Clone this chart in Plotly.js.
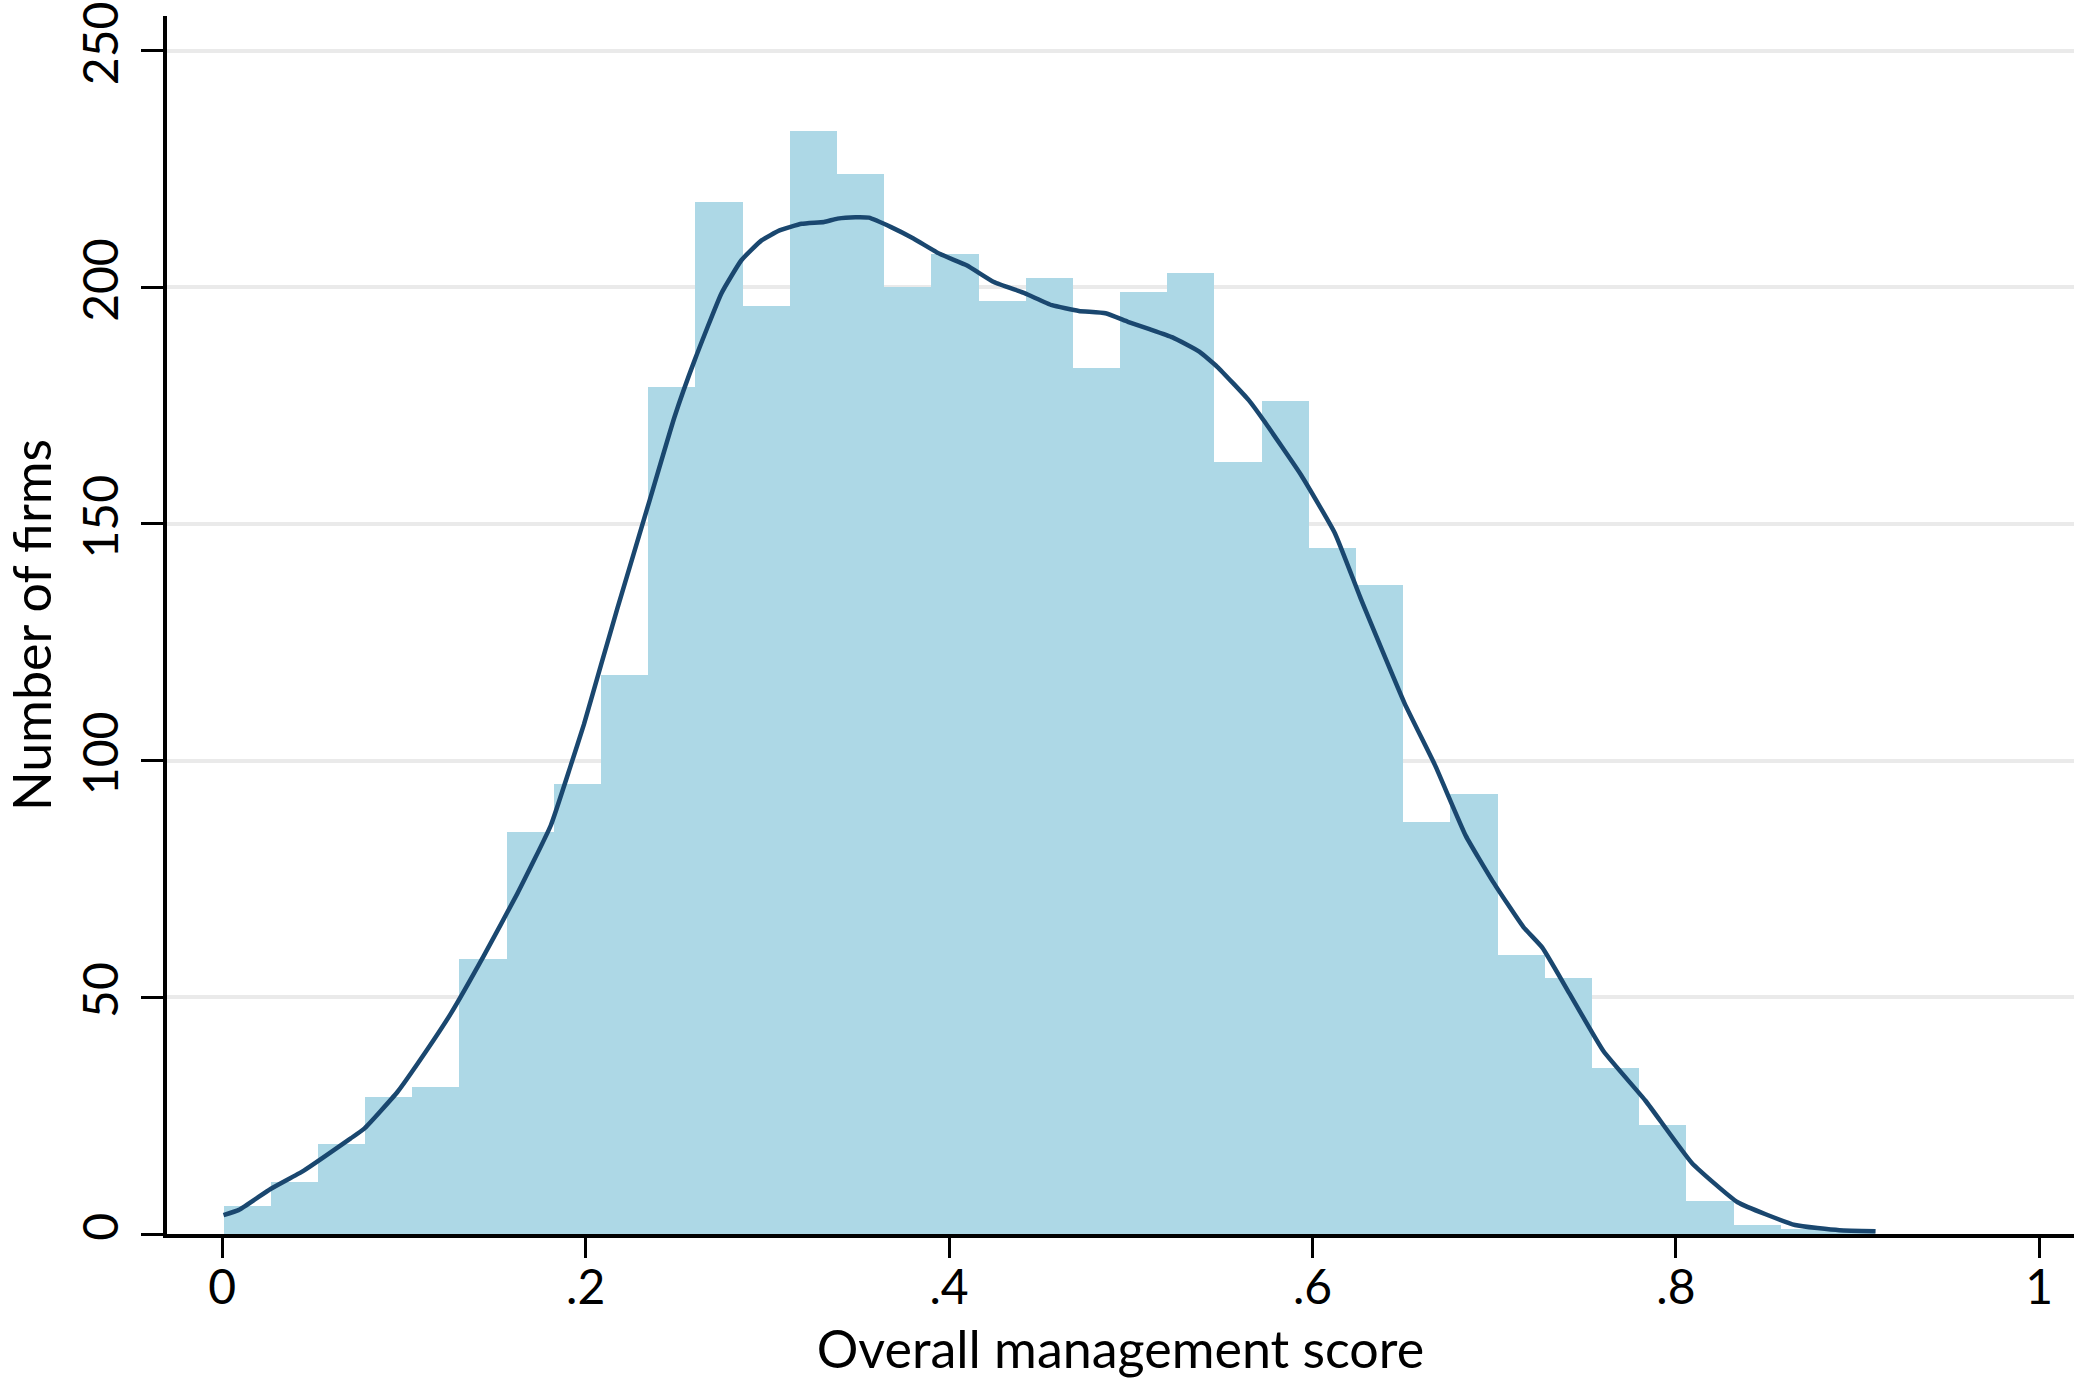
<!DOCTYPE html>
<html>
<head>
<meta charset="utf-8">
<script src="https://cdn.plot.ly/plotly-3.0.1.min.js"></script>
<style>
  html, body { margin: 0; padding: 0; background: #ffffff; }
  #chart { width: 2094px; height: 1380px; }
</style>
</head>
<body>
<div id="chart"></div>
<script>
// Histogram of firms by overall management score, with a kernel density overlay
const binStart = 0.0007;
const binWidth = 0.02597;
const firmCounts = [6, 11, 19, 29, 31, 58, 85, 95, 118, 179, 218, 196, 233, 224, 200, 207, 197, 202,
                    183, 199, 203, 163, 176, 145, 137, 87, 93, 59, 54, 35, 23, 7, 2, 1, 1];

// Kernel density of the score, expressed in number of firms
const densityScore = [0.0007, 0.0092, 0.0266, 0.0449, 0.0707, 0.078, 0.0964, 0.112, 0.1257,
                      0.144, 0.1624, 0.1808, 0.1918, 0.1991, 0.2083, 0.2175, 0.2353, 0.2489, 0.26,
                      0.2747, 0.2857, 0.2968, 0.3067, 0.3189, 0.3312, 0.3386, 0.3485, 0.3558, 0.3681,
                      0.3804, 0.3951, 0.4099, 0.4247, 0.4418, 0.4566, 0.4714, 0.4861, 0.4984, 0.5107,
                      0.523, 0.5377, 0.5476, 0.5648, 0.5731, 0.5938, 0.6124, 0.6268, 0.6507, 0.6675,
                      0.6844, 0.6992, 0.716, 0.7265, 0.7413, 0.7602, 0.7834, 0.8088, 0.834, 0.8656,
                      0.89, 0.9099];
const densityFirms = [4.0, 5.1, 9.5, 13.4, 20.2, 22.2, 30.0, 38.5, 46.5,
                      58.8, 71.9, 86.3, 99.0, 107.7, 120.0, 132.2, 155.1, 172.6, 184.6,
                      198.7, 205.7, 209.9, 212.0, 213.4, 213.8, 214.5, 214.8, 214.7, 212.7,
                      210.3, 207.0, 204.6, 201.1, 198.7, 196.2, 195.0, 194.5, 192.7, 191.1,
                      189.4, 186.4, 183.2, 176.2, 171.9, 160.3, 148.0, 134.0, 112.1, 99.0,
                      84.1, 74.5, 64.9, 60.5, 50.9, 38.6, 28.1, 15.0, 6.7, 1.9,
                      0.8, 0.6];

const xTickVals = [0, 0.2, 0.4, 0.6, 0.8, 1];
const xTickText = ['0', '.2', '.4', '.6', '.8', '1'];
const yTickVals = [0, 50, 100, 150, 200, 250];
const yTickText = ['0', '50', '100', '150', '200', '250'];

const binCenters = firmCounts.map((_, i) => binStart + binWidth * (i + 0.5));

const FONT = 'Lato, "Open Sans", sans-serif';

const bars = {
  type: 'bar',
  x: binCenters,
  y: firmCounts,
  width: binWidth,
  marker: { color: '#add8e6', line: { width: 0 } },
  hoverinfo: 'x+y',
  showlegend: false
};

const density = {
  type: 'scatter',
  mode: 'lines',
  x: densityScore,
  y: densityFirms,
  line: { color: '#1a476f', width: 4.5, shape: 'spline', smoothing: 0.4 },
  showlegend: false
};

const layout = {
  width: 2094,
  height: 1380,
  paper_bgcolor: '#ffffff',
  plot_bgcolor: '#ffffff',
  margin: { l: 167, r: 20, t: 16, b: 146 },
  bargap: 0,
  font: { family: FONT, color: '#000000' },
  xaxis: {
    range: [-0.0304, 1.0191],
    tickvals: xTickVals,
    ticktext: xTickText,
    ticks: 'outside',
    ticklen: 20,
    tickwidth: 3,
    tickcolor: '#000000',
    showline: true,
    linecolor: '#000000',
    linewidth: 4,
    showgrid: false,
    zeroline: false,
    ticklabelstandoff: -12,
    tickfont: { family: FONT, size: 48, color: '#000000' },
    title: { text: 'Overall management score', font: { family: FONT, size: 52, color: '#000000' }, standoff: 20 },
    automargin: false
  },
  yaxis: {
    range: [0, 257.3],
    tickvals: yTickVals,
    ticktext: yTickText,
    tickangle: -90,
    ticks: 'outside',
    ticklen: 22,
    tickwidth: 3,
    tickcolor: '#000000',
    showline: true,
    linecolor: '#000000',
    linewidth: 4,
    showgrid: true,
    gridcolor: '#eaeaea',
    gridwidth: 4,
    zeroline: false,
    ticklabeloverflow: 'allow',
    ticklabelstandoff: 4,
    tickfont: { family: FONT, size: 48, color: '#000000' },
    title: { text: 'Number of firms', font: { family: FONT, size: 52, color: '#000000' }, standoff: 4 },
    automargin: false
  }
};

Plotly.newPlot('chart', [bars, density], layout, { displayModeBar: false, staticPlot: true });
</script>
</body>
</html>
